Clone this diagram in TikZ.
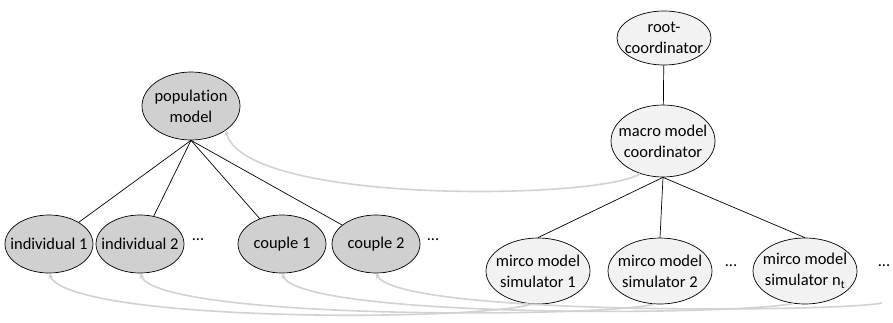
\documentclass[tikz,border=0pt]{standalone}
\usepackage{fontspec}
\setmainfont{Carlito}[Ligatures=NoCommon]
\usetikzlibrary{shapes.geometric,arrows.meta}
\definecolor{darkfill}{HTML}{D0D0D0}
\definecolor{lightfill}{HTML}{F2F2F2}
\definecolor{linkgray}{HTML}{D2D2D2}
\tikzset{
  txt/.style={inner sep=0pt,align=center,font=\fontsize{16.5}{21}\selectfont},
  blob/.style={ellipse,draw=black,line width=0.7pt,inner sep=0pt},
  popnode/.style={blob,fill=darkfill,minimum width=88pt,minimum height=58pt},
  simnode/.style={blob,fill=lightfill,minimum width=104pt,minimum height=66pt},
  inside/.style={label={[txt]center:#1}},
  dotsnode/.style={txt},
  tree/.style={draw=black,line width=0.7pt},
  link/.style={draw=linkgray,line width=1.6pt,-{Stealth[length=5pt,width=5pt]}},
}
\begin{document}
\begin{tikzpicture}[x=1pt,y=-1pt]
\useasboundingbox (0,0) rectangle (893,322);

% coordinator hierarchy
\node[blob,fill=lightfill,minimum width=94pt,minimum height=54pt,inside={root-\\coordinator}] (root) at (664,38) {};
\node[blob,fill=lightfill,minimum width=104pt,minimum height=72pt,inside={macro model\\coordinator}] (macro) at (663,141) {};
\node[simnode,inside={mirco model\\simulator 1}] (sim1) at (538,271) {};
\node[simnode,inside={mirco model\\simulator 2}] (sim2) at (660,271) {};
\node[dotsnode] (sdots1) at (731,266) {...};
\node[simnode,inside={mirco model\\simulator n\textsubscript{t}}] (simn) at (805,271) {};
\node[dotsnode] (sdots2) at (884,266) {...};

% population model tree
\node[blob,fill=darkfill,minimum width=98pt,minimum height=68pt,inside={population\\model}] (pop) at (191,106) {};
\node[popnode,inside={individual 1}] (ind1) at (49,244) {};
\node[popnode,inside={individual 2}] (ind2) at (140,244) {};
\node[dotsnode] (pdots1) at (198,240) {...};
\node[popnode,inside={couple 1}] (cpl1) at (282,244) {};
\node[popnode,inside={couple 2}] (cpl2) at (376,244) {};
\node[dotsnode] (pdots2) at (433,240) {...};

\coordinate (free) at (882,303);

% tree edges
\draw[tree] (root) -- (macro);
\draw[tree] (macro.south) -- (sim1.north);
\draw[tree] (macro.south) -- (sim2.north);
\draw[tree] (macro.south) -- (simn.north);
\foreach \c in {ind1,ind2,cpl1,cpl2}
  \draw[tree] (pop.south) -- (\c);

% links from the simulation side back to the model entities
\draw[link] (macro.-125) .. controls (600,200) and (245,205) .. (pop.-35);
\draw[link] (sim1.-100) .. controls (470,322) and (70,322) .. (ind1.south);
\draw[link] (sim2.-100) .. controls (600,318) and (160,320) .. (ind2.south);
\draw[link] (simn.-110) .. controls (730,316) and (300,318) .. (cpl1.south);
\draw[link] (free) .. controls (840,312) and (400,316) .. (cpl2.south);
\end{tikzpicture}
\end{document}
